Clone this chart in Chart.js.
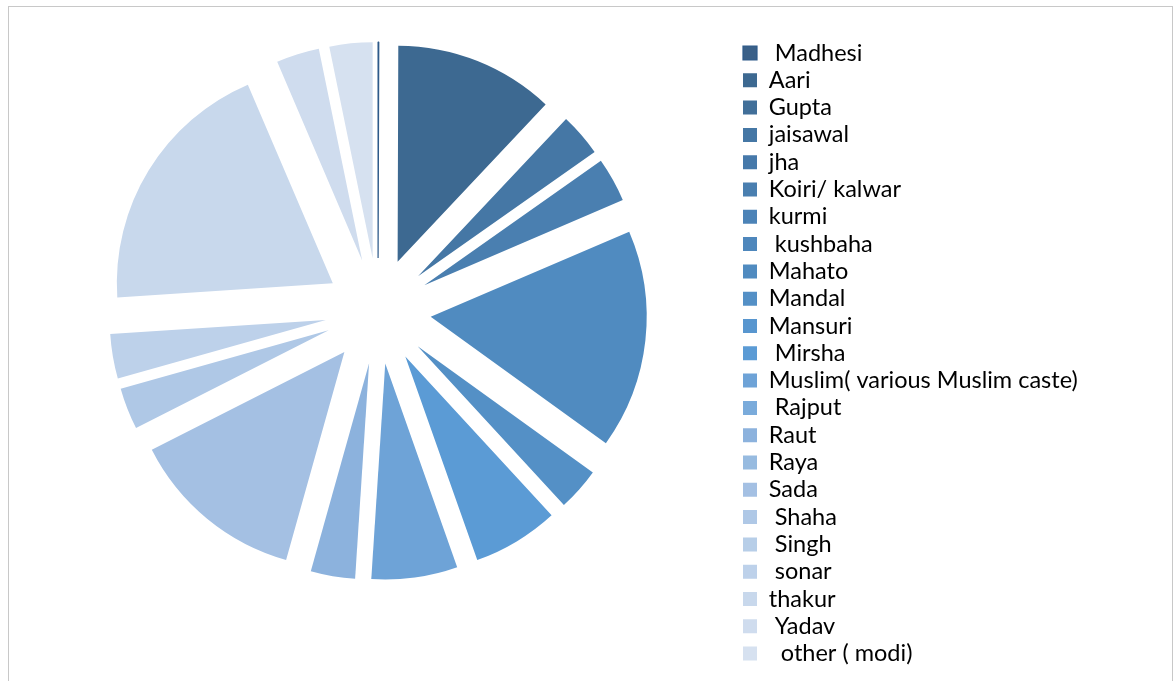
<!DOCTYPE html>
<html>
<head>
<meta charset="utf-8">
<script src="https://cdn.jsdelivr.net/npm/chart.js@4.4.1/dist/chart.umd.min.js"></script>
<style>
  html, body { margin: 0; padding: 0; background: #fff; }
  #wrap { position: relative; width: 1174px; height: 681px; }
  #frame { position: absolute; left: 8px; top: 6px; width: 1163px; height: 700px; border: 1px solid #c8c8c8; pointer-events: none; }
</style>
</head>
<body>
<div id="wrap">
  <canvas id="chart"></canvas>
  <div id="frame"></div>
</div>
<script>
// categories as they stand in the legend (leading spaces kept)
const categories = [' Madhesi', 'Aari', 'Gupta', 'jaisawal', 'jha', 'Koiri/ kalwar', 'kurmi', ' kushbaha',
  'Mahato', 'Mandal', 'Mansuri', ' Mirsha', 'Muslim( various Muslim caste)', ' Rajput', 'Raut', 'Raya',
  'Sada', ' Shaha', ' Singh', ' sonar', 'thakur', ' Yadav', '  other ( modi)'];

// share of each slice (%)
const shares = [0.05, 11.9, 0, 3.2, 0, 3.3, 0, 0, 16.3, 3.2, 0, 6.4, 6.4, 0, 3.3, 0, 13.1, 3.1, 0, 3.3, 19.5, 3.2, 3.2];

const colors = ['#3a6088', '#3d6991', '#416f99', '#4577a5', '#4679aa', '#4a7fb0', '#4c83b7', '#4e87bc',
  '#508bc0', '#5490c6', '#5896cf', '#5b9bd5', '#6ea3d7', '#7aabdb', '#8cb2dd', '#97bbe0',
  '#a4c0e3', '#afc8e6', '#b7cee8', '#bdd1ea', '#c8d8ec', '#cfdcee', '#d6e1f0'];

const borderColors = colors.map((c, i) => i === 0 ? '#2e5a8a' : c);
const borderWidths = colors.map((c, i) => i === 0 ? 1.2 : 0);

// exploded slices: push every arc out along its bisector
const EXPLODE = 53;
const baseArcDraw = Chart.ArcElement.prototype.draw;
Chart.ArcElement.prototype.draw = function (ctx) {
  const mid = (this.startAngle + this.endAngle) / 2;
  ctx.save();
  ctx.translate(Math.cos(mid) * EXPLODE, Math.sin(mid) * EXPLODE);
  baseArcDraw.call(this, ctx);
  ctx.restore();
};

const FONT_SIZE = 23.5;
const LEGEND_PAD = 27.3 - FONT_SIZE;

const chart = new Chart(document.getElementById('chart'), {
  type: 'pie',
  data: {
    labels: categories,
    datasets: [{
      data: shares,
      backgroundColor: colors,
      borderColor: borderColors,
      borderWidth: borderWidths
    }]
  },
  options: {
    responsive: true,
    maintainAspectRatio: false,
    animation: false,
    radius: 216,
    layout: { padding: { left: 756 - (743 - LEGEND_PAD), right: 80, top: 30.6, bottom: 5 } },
    plugins: {
      legend: {
        position: 'right',
        align: 'center',
        fullSize: true,
        labels: {
          boxWidth: 14,
          boxHeight: 14,
          padding: LEGEND_PAD,
          color: '#000',
          font: { family: 'Lato', size: FONT_SIZE }
        }
      },
      // empty bottom box: lifts the pie centre above the legend centre
      title: {
        display: true,
        text: '',
        position: 'bottom',
        fullSize: false,
        padding: { top: 0, bottom: 70.2 }
      },
      tooltip: { enabled: false }
    }
  }
});

// place the legend column so its boxes start at x = 743
chart.options.layout.padding.right = 1174 - (743 - LEGEND_PAD) - chart.legend.width;
chart.update();
</script>
</body>
</html>
